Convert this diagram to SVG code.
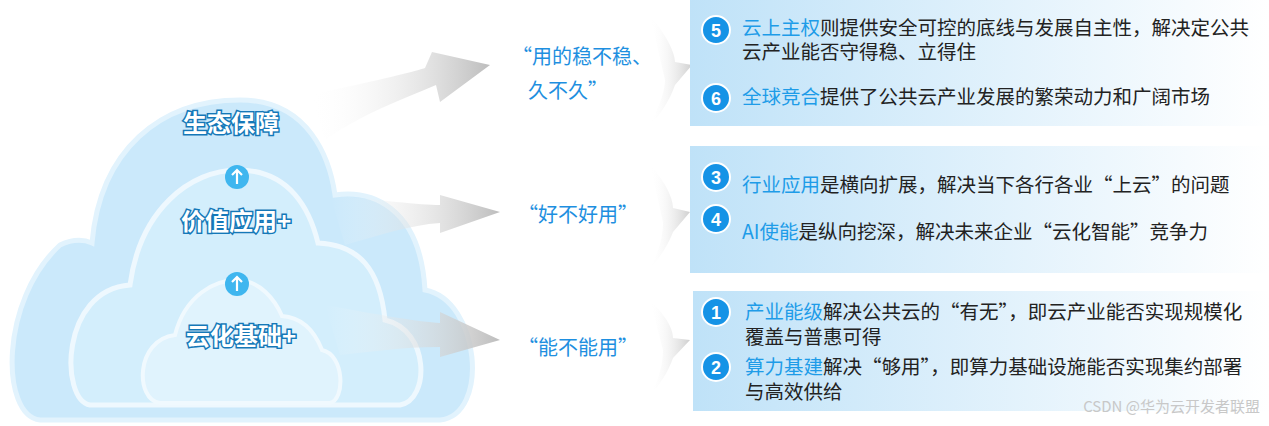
<svg xmlns="http://www.w3.org/2000/svg" width="1269" height="426" viewBox="0 0 1269 426">
<style>
.t{font-family:"Noto Sans CJK SC",sans-serif;font-size:19.5px;fill:#222}
.h{fill:#1e9ce8}
.q{font-family:"Noto Sans CJK SC",sans-serif;font-size:20px;fill:#1e8fe0}
.c{font-family:"Noto Sans CJK SC",sans-serif;font-size:24px;font-weight:bold;fill:#fff;stroke:#1578b8;stroke-width:3px;paint-order:stroke}
.n{font-family:"Liberation Sans",sans-serif;font-size:18px;font-weight:bold;fill:#fff;text-anchor:middle}
</style>
<defs>
<linearGradient id="pg" x1="0" x2="1"><stop offset="0" stop-color="#bfe2f8"/><stop offset="1" stop-color="#ffffff"/></linearGradient>
<linearGradient id="ag" x1="0" x2="1"><stop offset="0" stop-color="#ffffff" stop-opacity="0"/><stop offset="1" stop-color="#bdbdbd"/></linearGradient>
<linearGradient id="cg" x1="0" x2="1"><stop offset="0" stop-color="#ffffff" stop-opacity="0"/><stop offset="1" stop-color="#cfcfcf"/></linearGradient>
</defs>
<g id="cloud-outer"><path d="M40,420 C0,415 0,300 60,245 C75,238 85,240 92,243 C100,150 160,100 240,100 C310,100 330,160 335,195 C370,190 420,205 425,290 C480,300 490,415 440,420 Z" fill="#cbe9fb" stroke="#e2f3fd" stroke-width="5"/></g>
<g id="cloud-mid"><path d="M90,405 C60,400 60,290 130,285 C140,210 190,170 238,170 C290,170 310,210 318,243 C360,245 380,270 385,320 C430,330 430,400 400,405 Z" fill="#d3eefc" stroke="#eef8fe" stroke-width="5"/></g>
<g id="cloud-inner"><path d="M160,403 C135,400 135,340 175,335 C185,295 215,280 237,280 C260,280 275,300 282,316 C310,318 320,345 322,350 C345,355 345,400 330,403 Z" fill="#e0f3fd" stroke="#f0f9fe" stroke-width="4"/></g>
<g id="connectors">
<path d="M310,95 C380,80 420,70 425,68 L432,52 L490,65 L440,102 L436,85 C400,100 360,115 325,140 Z" fill="url(#ag)"/>
<path d="M330,195 C380,200 420,205 440,205 L440,195 L500,212 L440,233 L440,223 C410,225 380,235 345,245 Z" fill="url(#ag)"/>
<path d="M325,305 C380,315 420,322 440,323 L440,312 L500,340 L440,357 L440,347 C400,347 370,352 340,355 Z" fill="url(#ag)"/>
<path d="M650,15 C670,40 675,55 675,62 L692,65 L675,85 C670,100 660,115 650,125 C660,105 665,90 665,80 Z" fill="url(#cg)"/>
<path d="M650,165 C668,185 673,200 673,208 L690,212 L673,232 C668,245 660,258 650,268 C660,250 663,235 663,222 Z" fill="url(#cg)"/>
<path d="M650,300 C668,318 673,330 673,338 L690,340 L673,358 C668,372 660,385 650,395 C660,378 663,362 663,350 Z" fill="url(#cg)"/>
<circle cx="237" cy="177" r="12" fill="#3fb6ef"/><path d="M237,184 V171 M232,175 L237,170 L242,175" stroke="#fff" stroke-width="2.2" fill="none"/>
<circle cx="237" cy="284" r="12" fill="#3fb6ef"/><path d="M237,291 V278 M232,282 L237,277 L242,282" stroke="#fff" stroke-width="2.2" fill="none"/>
</g>
<g id="labels">
<text class="c" x="183" y="132">生态保障</text>
<text class="c" x="181" y="230">价值应用+</text>
<text class="c" x="186" y="345">云化基础+</text>
<text class="q" x="512" y="64">“用的稳不稳、</text>
<text class="q" x="528" y="98">久不久”</text>
<text class="q" x="518" y="222">“好不好用”</text>
<text class="q" x="518" y="355">“能不能用”</text>
</g>
<g id="panel-top"><rect x="690" y="0" width="579" height="126" fill="url(#pg)"/>
<circle cx="716" cy="30" r="14" fill="#1593e6" stroke="#fff" stroke-width="2"/><text class="n" x="716" y="36.5">5</text>
<text class="t" x="725" y="35" dx="17"><tspan class="h">云上主权</tspan>则提供安全可控的底线与发展自主性，解决定公共</text>
<text class="t" x="742" y="59">云产业能否守得稳、立得住</text>
<circle cx="716" cy="98" r="14" fill="#1593e6" stroke="#fff" stroke-width="2"/><text class="n" x="716" y="104.5">6</text>
<text class="t" x="742" y="104"><tspan class="h">全球竞合</tspan>提供了公共云产业发展的繁荣动力和广阔市场</text></g>
<g id="panel-mid"><rect x="690" y="146" width="579" height="127" fill="url(#pg)"/>
<circle cx="716" cy="177" r="14" fill="#1593e6" stroke="#fff" stroke-width="2"/><text class="n" x="716" y="183.5">3</text>
<text class="t" x="742" y="192"><tspan class="h">行业应用</tspan>是横向扩展，解决当下各行各业“上云”的问题</text>
<circle cx="716" cy="219" r="14" fill="#1593e6" stroke="#fff" stroke-width="2"/><text class="n" x="716" y="225.5">4</text>
<text class="t" x="742" y="239"><tspan class="h">AI使能</tspan>是纵向挖深，解决未来企业“云化智能”竞争力</text></g>
<g id="panel-bot"><rect x="693" y="291" width="576" height="120" fill="url(#pg)"/>
<circle cx="716" cy="312" r="14" fill="#1593e6" stroke="#fff" stroke-width="2"/><text class="n" x="716" y="318.5">1</text>
<text class="t" x="745" y="319"><tspan class="h">产业能级</tspan>解决公共云的“有无”，即云产业能否实现规模化</text>
<text class="t" x="745" y="344">覆盖与普惠可得</text>
<circle cx="716" cy="367" r="14" fill="#1593e6" stroke="#fff" stroke-width="2"/><text class="n" x="716" y="373.5">2</text>
<text class="t" x="745" y="374"><tspan class="h">算力基建</tspan>解决“够用”，即算力基础设施能否实现集约部署</text>
<text class="t" x="745" y="399">与高效供给</text></g>
<text x="1260" y="412" text-anchor="end" font-family="Noto Sans CJK SC,sans-serif" font-size="15" fill="#c8c8c8">CSDN @华为云开发者联盟</text>
</svg>
